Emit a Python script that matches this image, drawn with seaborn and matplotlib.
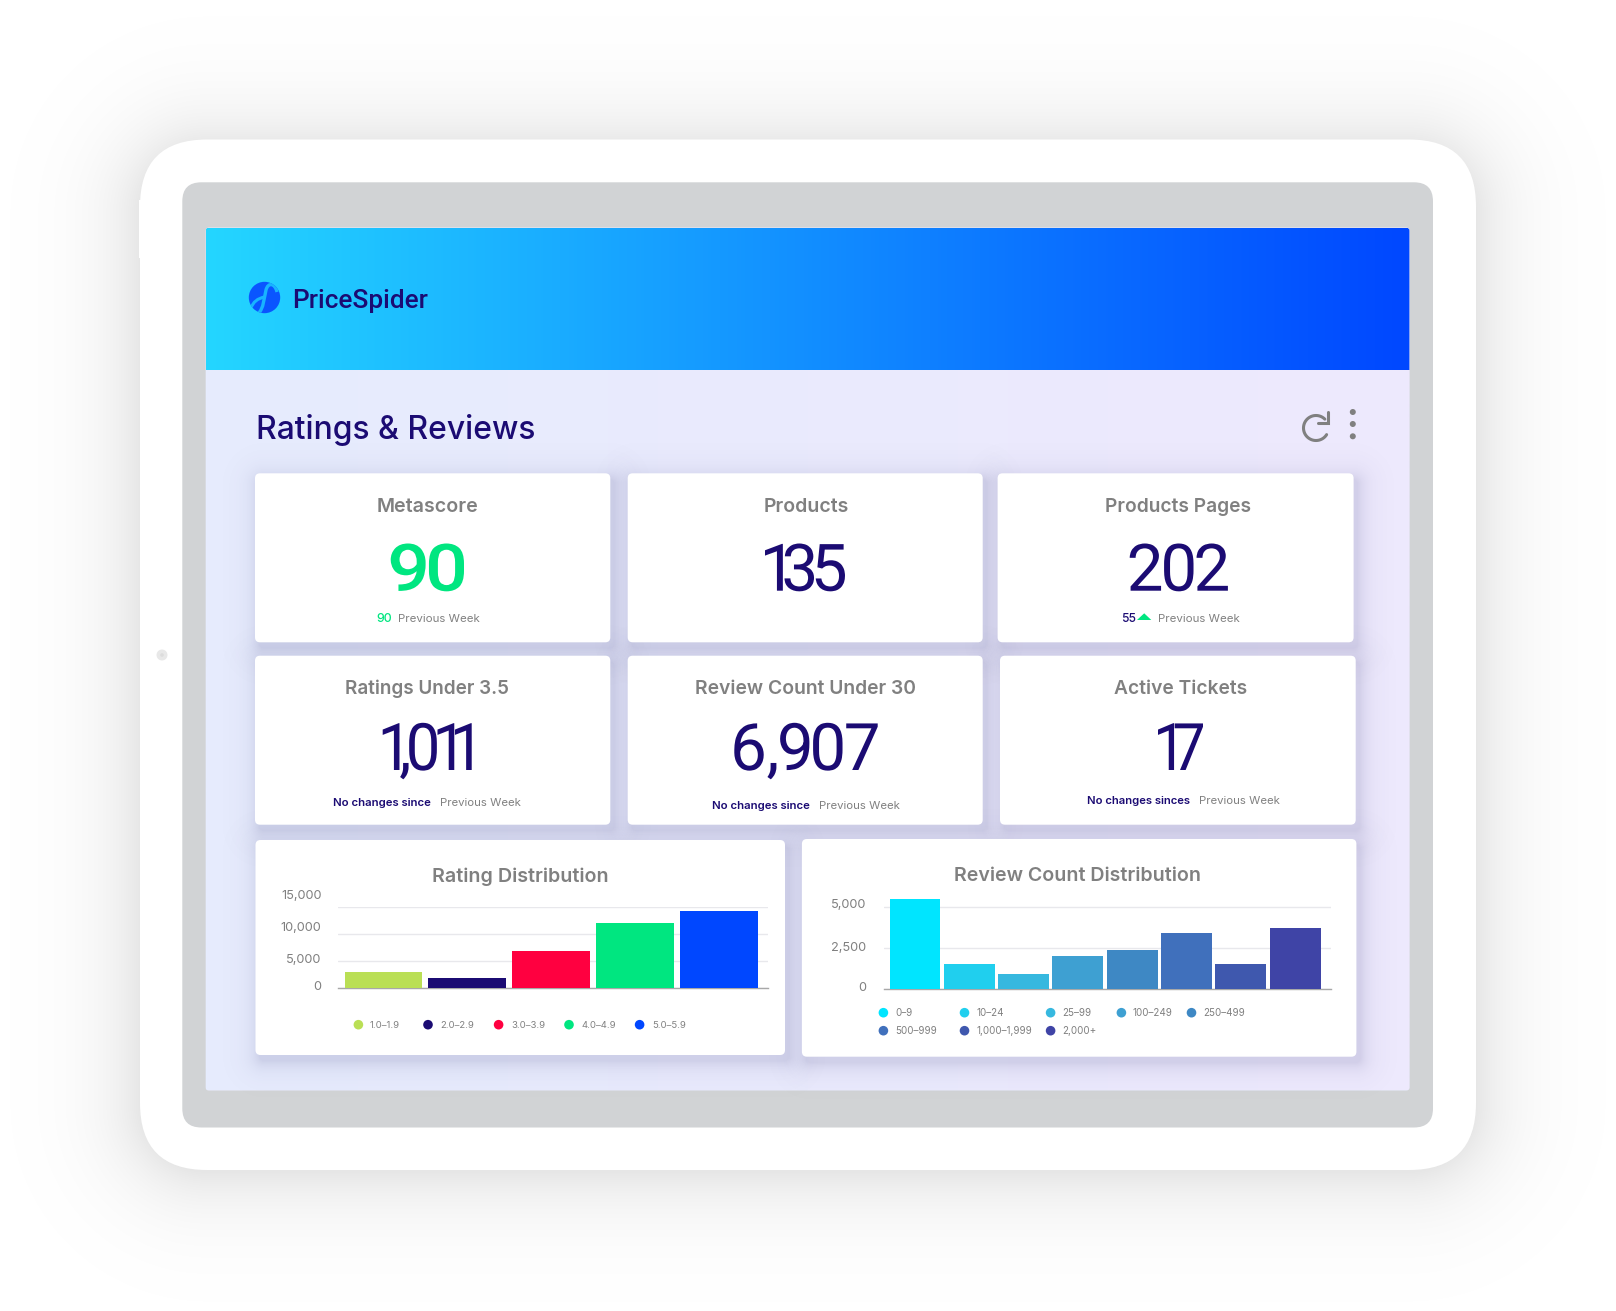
import numpy as np
import pandas as pd
import matplotlib
matplotlib.use("Agg")
import matplotlib.pyplot as plt
import seaborn as sns
from matplotlib.patches import FancyBboxPatch, Circle, Polygon, PathPatch
from matplotlib.path import Path
from matplotlib.text import Text
from matplotlib.textpath import TextPath
from matplotlib.transforms import Affine2D, Bbox

# values
kpi_titles = ["Metascore", "Products", "Products Pages",
              "Ratings Under 3.5", "Review Count Under 30", "Active Tickets"]
kpi_values = ["90", "135", "202", "1,011", "6,907", "17"]
change_text = ["No changes since", "No changes since", "No changes sinces"]
prev_label = "Previous Week"

rating_bins = ["1.0–1.9", "2.0–2.9", "3.0–3.9", "4.0–4.9", "5.0–5.9"]
rating_counts = [3090, 1850, 6900, 12040, 14320]
rating_ticks = [0, 5000, 10000, 15000]
rating_colors = ["#BADF55", "#1B0B73", "#FF0040", "#00E680", "#0047FF"]

review_bins = ["0–9", "10–24", "25–99", "100–249", "250–499", "500–999", "1,000–1,999", "2,000+"]
review_counts = [5510, 1550, 900, 2020, 2410, 3410, 1550, 3710]
review_ticks = [0, 2500, 5000]
review_colors = ["#00E5FF", "#20CFEE", "#36B8DF", "#3EA0D2", "#3E88C4", "#4070BC", "#3F58AE", "#3F44A6"]

W, H = 1616, 1311
NAVY = "#1B0B73"
GREY = "#808080"
GREEN = "#00E680"

sns.set_theme(style="white")
plt.rcParams["font.family"] = ["Inter", "DejaVu Sans"]

fig = plt.figure(figsize=(W / 100, H / 100), dpi=100, facecolor="white")
bg = fig.add_axes([0, 0, 1, 1], zorder=0)
bg.set_xlim(0, W)
bg.set_ylim(H, 0)
bg.axis("off")
renderer = fig.canvas.get_renderer()


class TightNumber(Text):
    # one text whose glyphs are spaced so the ink spans x0..x1, the original sets them very tight
    def __init__(self, x0, x1, base, s, size_px, stretch=1.0, **kw):
        super().__init__(x0, base, s, **kw)
        self.x1 = x1
        self.size_px = size_px
        self.stretch = stretch

    def draw(self, rend):
        prop = self.get_fontproperties()
        glyphs = [TextPath((0, 0), c, size=self.size_px, prop=prop) for c in self.get_text()]
        ext = [g.get_extents() for g in glyphs]
        ink = sum(e.width for e in ext) * self.stretch
        (x0, y0), (x1, _) = self.get_transform().transform([(self.get_position()), (self.x1, 0)])
        gap = (x1 - x0 - ink) / max(len(glyphs) - 1, 1)
        gc = rend.new_gc()
        gc.set_linewidth(0)
        face = matplotlib.colors.to_rgb(self.get_color())
        x = x0
        for g, e in zip(glyphs, ext):
            tr = Affine2D().translate(-e.x0, 0).scale(self.stretch, 1).translate(x, y0)
            rend.draw_path(gc, g, tr, face)
            x += e.width * self.stretch + gap
        gc.restore()

    def get_window_extent(self, renderer=None, dpi=None):
        (x0, y0), (x1, _) = self.get_transform().transform([(self.get_position()), (self.x1, 0)])
        return Bbox([[x0, y0 - 0.12 * self.size_px], [x1, y0 + 0.72 * self.size_px]])


def round_box(x0, y0, x1, y1, r, color, z=2):
    p = FancyBboxPatch((x0 + r, y0 + r), x1 - x0 - 2 * r, y1 - y0 - 2 * r,
                       boxstyle=f"round,pad={r},rounding_size={r}",
                       fc=color, ec="none", zorder=z)
    bg.add_patch(p)
    return p


def shadow(x0, y0, x1, y1, r, color, alpha, falloff, reach, z=1):
    # soft shadow from the distance to a rounded rectangle
    gx0, gx1 = int(x0 - reach), int(x1 + reach)
    gy0, gy1 = int(y0 - reach), int(y1 + reach)
    xs, ys = np.meshgrid(np.arange(gx0, gx1) + 0.5, np.arange(gy0, gy1) + 0.5)
    cx, cy = (x0 + x1) / 2, (y0 + y1) / 2
    dx = np.abs(xs - cx) - ((x1 - x0) / 2 - r)
    dy = np.abs(ys - cy) - ((y1 - y0) / 2 - r)
    d = np.hypot(np.maximum(dx, 0), np.maximum(dy, 0)) - r
    d = np.maximum(d, 0)
    img = np.zeros(xs.shape + (4,))
    img[..., :3] = matplotlib.colors.to_rgb(color)
    img[..., 3] = alpha * np.exp(-d / falloff)
    bg.imshow(img, extent=(gx0, gx1, gy1, gy0), origin="upper", zorder=z,
              interpolation="bilinear", aspect="auto")


def gradient(x0, y0, x1, y1, c0, c1, clip, z):
    ramp = np.linspace(0, 1, 400)[None, :, None]
    a, b = np.array(matplotlib.colors.to_rgb(c0)), np.array(matplotlib.colors.to_rgb(c1))
    im = bg.imshow(a + (b - a) * ramp, extent=(x0, x1, y1, y0), origin="upper",
                   zorder=z, aspect="auto", interpolation="bilinear")
    im.set_clip_path(clip)


def fit_text(x0, x1, base, s, color, guess=16, weight="normal", family=None, z=6):
    # font size so the string spans x0..x1
    t = bg.text(x0, base, s, color=color, fontsize=guess, fontweight=weight, va="baseline", ha="left", zorder=z)
    if family:
        t.set_family(family)
    w = t.get_window_extent(renderer).width
    t.set_fontsize(guess * (x1 - x0) / w)
    return t


# device
shadow(140, 146, 1476, 1172, 67, "black", 0.10, 40, 130)
round_box(140, 139.5, 1476, 1170, 67, "white", z=2)
bg.add_patch(Polygon([(139, 200), (141, 200), (141, 258), (139, 258)], fc="white", ec="none", zorder=2))
round_box(182.3, 182.3, 1433, 1127.5, 19, "#D1D3D5", z=3)
bg.add_patch(Circle((162, 655), 5.5, fc="#E8E8E8", ec="none", zorder=3))
bg.add_patch(Circle((162, 655), 1.8, fc="#DCDCDC", ec="none", zorder=3))

# screen
screen = round_box(205.7, 227.7, 1409.4, 1090.5, 3, "#E9EBFD", z=3)
gradient(205.7, 227.7, 1409.4, 1090.5, "#E6ECFE", "#EEE9FD", screen, 3.1)
head_clip = round_box(205.7, 227.7, 1409.4, 380, 3, "none", z=3)
gradient(205.7, 227.7, 1409.4, 369.7, "#24D6FF", "#0047FF", head_clip, 3.2)

# logo
logo = Circle((264.5, 297.5), 15.7, fc="#0A55FF", ec="none", zorder=4)
bg.add_patch(logo)
s_path = Path([(277, 292), (275, 283), (268, 282), (266, 290), (264, 298), (264, 308), (258, 314)],
              [Path.MOVETO, Path.CURVE4, Path.CURVE4, Path.CURVE4, Path.CURVE4, Path.CURVE4, Path.CURVE4])
s_patch = PathPatch(s_path, fc="none", ec="#18B4FF", lw=2.4, zorder=4.1)
bg.add_patch(s_patch)
s_patch.set_clip_path(logo)
tail = Path([(251, 308), (254, 299), (264.5, 297)], [Path.MOVETO, Path.CURVE3, Path.CURVE3])
t_patch = PathPatch(tail, fc="none", ec="#18B4FF", lw=2.2, zorder=4.1)
bg.add_patch(t_patch)
t_patch.set_clip_path(logo)
fit_text(292, 428.5, 308.3, "PriceSpider", NAVY, guess=20, weight=500, family="Roboto")

# header row of the page
fit_text(255.8, 535, 439, "Ratings & Reviews", NAVY, guess=25, weight=500)
th = np.radians(np.linspace(45, 328, 80))
bg.plot(1316 + 12.5 * np.cos(th), 428 - 12.5 * np.sin(th), color=GREY, lw=2.2, zorder=5)
bg.plot([1328, 1328, 1317.5], [412.3, 422.7, 422.7], color=GREY, lw=2.2, zorder=5, solid_joinstyle="miter")
for yy in (412, 424, 436.3):
    bg.add_patch(Circle((1352.8, yy), 3, fc=GREY, ec="none", zorder=5))

# cards
top_row = (473.3, 642.3)
mid_row = (655.7, 824.7)
cards = [(255, 610.3, *top_row), (627.7, 982.7, *top_row), (997.6, 1353.6, *top_row),
         (255, 610.3, *mid_row), (627.7, 982.7, *mid_row), (1000, 1355.7, *mid_row),
         (255.5, 785, 840, 1055), (801.9, 1356.4, 839, 1056.7)]
for x0, x1, y0, y1 in cards:
    shadow(x0 + 4, y0 + 6, x1 + 4, y1 + 6, 5, "#3C3C78", 0.15, 10, 45, z=3.5)
for x0, x1, y0, y1 in cards:
    round_box(x0, y0, x1, y1, 5, "white", z=4)

title_spans = [(376.7, 478.3, 512.3), (763.3, 848.7, 512.3), (1105.3, 1251.5, 512.3),
               (345.3, 509.3, 694), (695.3, 916.7, 694), (1114, 1246.7, 694)]
value_spans = [(390.7, 464, 590.7), (765, 845, 590.7), (1129.7, 1227.9, 590.7),
               (382.7, 471.7, 770), (734.3, 877.7, 770), (1158, 1203, 770)]
value_stretch = [1.15, 1.0, 1.0, 0.94, 1.0, 0.9]
for i, (val, span) in enumerate(zip(kpi_values, value_spans)):
    num = TightNumber(span[0], span[1], span[2], val, 65.5, stretch=value_stretch[i],
                      color=GREEN if i == 0 else NAVY,
                      family="Roboto", fontweight=500 if i == 0 else "normal", zorder=6)
    bg._add_text(num)
for name, span in zip(kpi_titles, title_spans):
    fit_text(span[0], span[1], span[2], name, GREY, guess=16, weight=600)

# small lines under the numbers
fit_text(376.7, 392.7, 621.7, kpi_values[0], GREEN, guess=9, weight=500)
fit_text(398.3, 480, 621.7, prev_label, GREY, guess=9)
fit_text(1120.6, 1135.2, 621.7, "55", NAVY, guess=9, weight=500)
bg.add_patch(Polygon([(1137, 620), (1151.3, 620), (1144.2, 613.3)], fc=GREEN, ec="none", zorder=6))
fit_text(1158, 1239.7, 621.7, prev_label, GREY, guess=9)
for label, a, b, c, d, base in zip(change_text, (333, 712, 1086.7), (431, 810, 1190),
                                   (440, 819, 1199.3), (521.3, 900, 1280.3), (805.7, 808.7, 803.7)):
    fit_text(a, b, base, label, NAVY, guess=9, weight=600)
    fit_text(c, d, base, prev_label, GREY, guess=9)


def dist_chart(rect, cats, vals, colors, ticks, ymax, xlim, bar_w):
    # rect in pixels: left, right, top, baseline
    l, r, t, b = rect
    ax = fig.add_axes([l / W, 1 - b / H, (r - l) / W, (b - t) / H], zorder=2)
    frame = pd.DataFrame({"bin": cats, "count": vals})
    sns.barplot(data=frame, x="bin", y="count", hue="bin", palette=colors, dodge=False,
                width=bar_w, saturation=1, linewidth=0, legend=False, ax=ax, zorder=3)
    ax.set_xlim(*xlim)
    ax.set_ylim(0, ymax)
    ax.set_yticks(ticks)
    ax.set_xticks([])
    ax.set_xlabel("")
    ax.set_ylabel("")
    ax.set_yticklabels([])
    ax.tick_params(left=False, bottom=False)
    ax.yaxis.grid(True, color="#E8E8EC", lw=1)
    ax.set_axisbelow(True)
    ax.patch.set_visible(False)
    sns.despine(ax=ax, left=True)
    ax.spines["bottom"].set_color("#A8A8A8")
    ax.spines["bottom"].set_linewidth(1)
    return ax


dist_chart((338.4, 768.3, 907.3, 988.3), rating_bins, rating_counts, rating_colors,
           rating_ticks, 15000, (-0.538, 4.59), 0.93)
dist_chart((883.8, 1330.8, 989 - 81.67 * 5600 / 5000, 989), review_bins, review_counts, review_colors,
           review_ticks, 5600, (-0.574, 7.657), 0.937)

fit_text(431.5, 607.2, 882.3, "Rating Distribution", GREY, guess=16, weight=600)
fit_text(953.8, 1199.6, 881, "Review Count Distribution", GREY, guess=16, weight=600)

# axis labels sit a little off the grid lines in the original
for tick, base in zip(rating_ticks, (990, 963.3, 931.3, 899.3)):
    bg.text(321.5, base, f"{tick:,}", color=GREY, fontsize=9.2, ha="right", va="baseline", zorder=6)
for tick, base in zip(review_ticks, (991, 951.3, 908.3)):
    bg.text(866, base, f"{tick:,}", color=GREY, fontsize=9.2, ha="right", va="baseline", zorder=6)

# legends
rating_dots = (358.4, 428, 498.6, 569, 639.6)
rating_text = (370, 440, 511, 581, 652)
for name, c, dx, tx in zip(rating_bins, rating_colors, rating_dots, rating_text):
    bg.add_patch(Circle((dx, 1024.7), 4.8, fc=c, ec="none", zorder=6))
    bg.text(tx, 1027.8, name, color=GREY, fontsize=6.9, va="baseline", zorder=6)

review_dots = (883.4, 964.5, 1050.6, 1121.4, 1191.5)
review_text = (895.2, 976.4, 1062.5, 1132.9, 1203.3)
for i, (name, c) in enumerate(zip(review_bins, review_colors)):
    col, row = i % 5, i // 5
    yy = 1012.7 + row * 18
    bg.add_patch(Circle((review_dots[col], yy), 4.8, fc=c, ec="none", zorder=6))
    bg.text(review_text[col], yy + 3.2, name, color=GREY, fontsize=7.1, va="baseline", zorder=6)

bg.set_xlim(0, W)
bg.set_ylim(H, 0)
fig.savefig("out.png", dpi=100, facecolor="white")
